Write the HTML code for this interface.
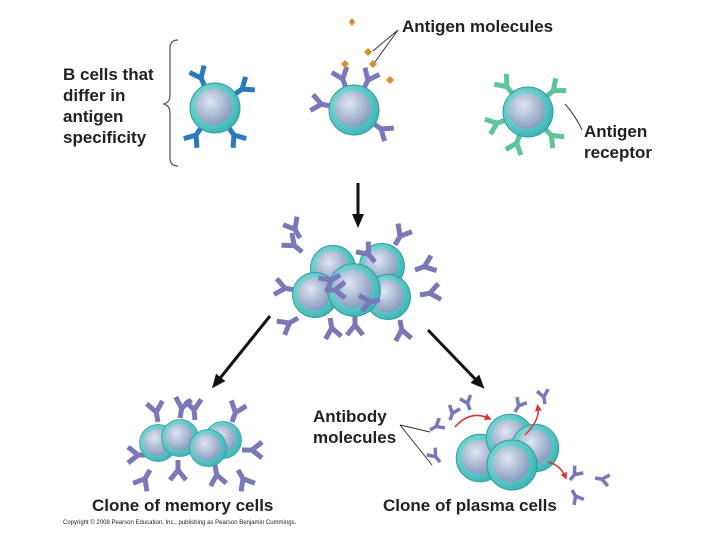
<!DOCTYPE html>
<html><head><meta charset="utf-8"><style>
body{margin:0;background:#fff}
text{font-family:"Liberation Sans",Arial,sans-serif;font-weight:bold;fill:#222}
</style></head><body>
<svg width="720" height="540" viewBox="0 0 720 540" xmlns="http://www.w3.org/2000/svg">
<defs>
<radialGradient id="cg" cx="40%" cy="40%" r="60%"><stop offset="0" stop-color="#a8e8e4"/><stop offset="1" stop-color="#3fb8b8"/></radialGradient>
<radialGradient id="ng" cx="40%" cy="35%" r="65%"><stop offset="0" stop-color="#dfe6f2"/><stop offset="1" stop-color="#8a9cc0"/></radialGradient>
<path id="yp" d="M0 0V-10M0-10L-8-20M0-10L8-20" stroke="#7b78b8" stroke-width="5" fill="none"/>
<path id="yb" d="M0 0V-10M0-10L-8-20M0-10L8-20" stroke="#2a78c0" stroke-width="5" fill="none"/>
<path id="yg" d="M0 0V-10M0-10L-8-20M0-10L8-20" stroke="#5ec49a" stroke-width="5" fill="none"/>
<g id="cell"><circle r="25" fill="url(#cg)" stroke="#2f9aa0" stroke-width="1"/><circle r="18" cx="-1" cy="-1" fill="url(#ng)"/></g>
<marker id="ah" markerWidth="14" markerHeight="12" refX="6" refY="6" orient="auto" markerUnits="userSpaceOnUse"><path d="M0 0L14 6L0 12Z" fill="#111"/></marker>
<marker id="rh" markerWidth="7" markerHeight="7" refX="3" refY="3.5" orient="auto" markerUnits="userSpaceOnUse"><path d="M0 0L7 3.5L0 7Z" fill="#d33"/></marker>
</defs>

<path d="M178 40 Q170 40 170 48 V95 Q170 102 164 104 Q170 106 170 113 V158 Q170 166 178 166" stroke="#555" fill="none" stroke-width="1.2"/>

<g transform="translate(215,108)"><use href="#yb" transform="rotate(-25) translate(0,-23)"/><use href="#yb" transform="rotate(55) translate(0,-23)"/><use href="#yb" transform="rotate(145) translate(0,-23)"/><use href="#yb" transform="rotate(-145) translate(0,-23)"/><use href="#cell"/></g>
<g transform="translate(354,110)"><use href="#yp" transform="rotate(-20) translate(0,-23)"/><use href="#yp" transform="rotate(25) translate(0,-23)"/><use href="#yp" transform="rotate(-80) translate(0,-23)"/><use href="#yp" transform="rotate(125) translate(0,-23)"/><use href="#cell"/></g>
<g fill="#e08a2a"><path d="M345 60l4 4-4 4-4-4z"/><path d="M373 60l4 4-4 4-4-4z"/><path d="M352 18l3 4-3 4-3-4z"/><path d="M390 76l4 4-4 4-4-4z"/><path d="M368 48l4 4-4 4-4-4z"/></g>
<path d="M398 30L373 51M398 30L375 62" stroke="#333" stroke-width="1"/>
<g transform="translate(528,112)"><use href="#yg" transform="rotate(-40) translate(0,-23)"/><use href="#yg" transform="rotate(50) translate(0,-23)"/><use href="#yg" transform="rotate(-110) translate(0,-23)"/><use href="#yg" transform="rotate(135) translate(0,-23)"/><use href="#yg" transform="rotate(-160) translate(0,-23)"/><use href="#cell"/></g>
<path d="M565 104 Q575 115 582 130" stroke="#333" fill="none" stroke-width="1"/>

<line x1="358" y1="183" x2="358" y2="220" stroke="#111" stroke-width="3" marker-end="url(#ah)"/>
<line x1="270" y1="316" x2="217" y2="382" stroke="#111" stroke-width="3" marker-end="url(#ah)"/>
<line x1="428" y1="330" x2="479" y2="383" stroke="#111" stroke-width="3" marker-end="url(#ah)"/>

<g>
<use href="#yp" transform="translate(302,252) rotate(-50)"/><use href="#yp" transform="translate(300,238) rotate(-30)"/>
<use href="#yp" transform="translate(395,245) rotate(30)"/><use href="#yp" transform="translate(415,270) rotate(70)"/>
<use href="#yp" transform="translate(420,295) rotate(80)"/><use href="#yp" transform="translate(295,290) rotate(-80)"/>
<use href="#yp" transform="translate(298,318) rotate(-120)"/><use href="#yp" transform="translate(330,318) rotate(170)"/>
<use href="#yp" transform="translate(355,315) rotate(180)"/><use href="#yp" transform="translate(400,320) rotate(170)"/>
<g transform="translate(333,268) scale(0.9)"><use href="#cell"/></g>
<g transform="translate(382,266) scale(0.9)"><use href="#cell"/></g>
<g transform="translate(315,295) scale(0.9)"><use href="#cell"/></g>
<g transform="translate(388,297) scale(0.9)"><use href="#cell"/></g>
<g transform="translate(354,290) scale(1.05)"><use href="#cell"/></g>
<use href="#yp" transform="translate(340,275) rotate(-120)"/><use href="#yp" transform="translate(375,262) rotate(-40)"/>
<use href="#yp" transform="translate(380,300) rotate(-100)"/><use href="#yp" transform="translate(325,290) rotate(90)"/>
</g>

<g>
<use href="#yp" transform="translate(158,422) rotate(-10)"/><use href="#yp" transform="translate(180,418) rotate(10)"/>
<use href="#yp" transform="translate(195,420) rotate(-5)"/><use href="#yp" transform="translate(232,422) rotate(20)"/>
<use href="#yp" transform="translate(148,455) rotate(-90)"/><use href="#yp" transform="translate(242,450) rotate(90)"/>
<use href="#yp" transform="translate(150,470) rotate(-150)"/><use href="#yp" transform="translate(178,460) rotate(180)"/>
<use href="#yp" transform="translate(215,465) rotate(170)"/><use href="#yp" transform="translate(238,470) rotate(150)"/>
<g transform="translate(158,443) scale(0.74)"><use href="#cell"/></g>
<g transform="translate(223,440) scale(0.74)"><use href="#cell"/></g>
<g transform="translate(180,438) scale(0.74)"><use href="#cell"/></g>
<g transform="translate(208,448) scale(0.74)"><use href="#cell"/></g>
</g>

<g>
<g transform="translate(480,458) scale(0.95)"><use href="#cell"/></g>
<g transform="translate(510,438) scale(0.95)"><use href="#cell"/></g>
<g transform="translate(535,448) scale(0.95)"><use href="#cell"/></g>
<g transform="translate(512,465) scale(1)"><use href="#cell"/></g>
<path d="M455 427Q470 410 488 418" stroke="#d33" fill="none" stroke-width="1.5" marker-end="url(#rh)"/>
<path d="M525 435Q540 420 538 408" stroke="#d33" fill="none" stroke-width="1.5" marker-end="url(#rh)"/>
<path d="M548 462Q560 465 565 476" stroke="#d33" fill="none" stroke-width="1.5" marker-end="url(#rh)"/>
<use href="#yp" transform="translate(450,420) rotate(20) scale(0.7)"/><use href="#yp" transform="translate(470,410) rotate(-20) scale(0.7)"/>
<use href="#yp" transform="translate(515,412) rotate(30) scale(0.7)"/><use href="#yp" transform="translate(545,404) rotate(-10) scale(0.7)"/>
<use href="#yp" transform="translate(430,430) rotate(60) scale(0.7)"/><use href="#yp" transform="translate(440,462) rotate(-40) scale(0.7)"/>
<use href="#yp" transform="translate(570,480) rotate(40) scale(0.7)"/><use href="#yp" transform="translate(595,478) rotate(100) scale(0.7)"/>
<use href="#yp" transform="translate(572,490) rotate(150) scale(0.7)"/>
</g>
<path d="M400 425L430 432M400 425L432 465" stroke="#333" stroke-width="1"/>

<text x="402" y="32" font-size="17">Antigen molecules</text>
<text font-size="17"><tspan x="63" y="80">B cells that</tspan><tspan x="63" y="101">differ in</tspan><tspan x="63" y="122">antigen</tspan><tspan x="63" y="143">specificity</tspan></text>
<text font-size="17"><tspan x="584" y="137">Antigen</tspan><tspan x="584" y="158">receptor</tspan></text>
<text font-size="17"><tspan x="313" y="422">Antibody</tspan><tspan x="313" y="443">molecules</tspan></text>
<text x="92" y="511" font-size="17">Clone of memory cells</text>
<text x="383" y="511" font-size="17">Clone of plasma cells</text>
<text x="63" y="524" font-size="6" style="font-weight:normal" fill="#444">Copyright © 2008 Pearson Education, Inc., publishing as Pearson Benjamin Cummings.</text>
</svg>
</body></html>
